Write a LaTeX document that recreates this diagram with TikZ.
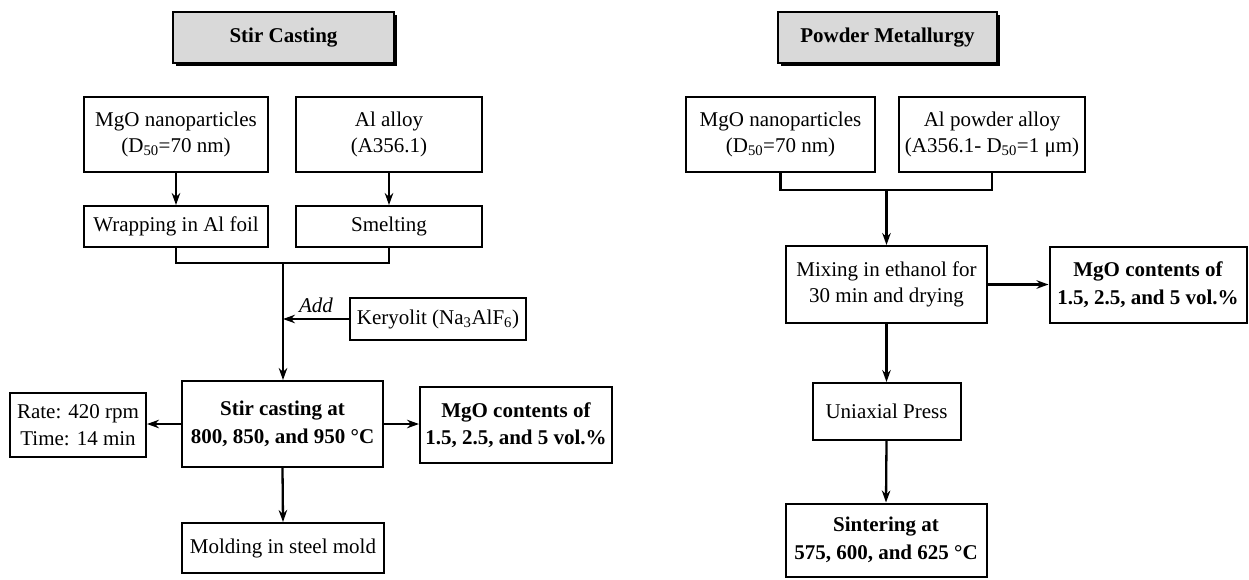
\documentclass[tikz,border=0pt]{standalone}
\usepackage{fontspec}
\setmainfont{Liberation Serif}
\usetikzlibrary{arrows.meta,shadows}
\definecolor{headgray}{HTML}{D9D9D9}
\begin{document}
\begin{tikzpicture}[x=1pt,y=-1pt,
  box/.style={draw, line width=2pt, fill=white, align=center, inner sep=0pt,
    font=\fontsize{21}{26.5}\selectfont},
  bbox/.style={box, font=\fontsize{21}{27.5}\selectfont\bfseries},
  head/.style={box, fill=headgray, font=\fontsize{21}{26}\selectfont\bfseries,
    drop shadow={shadow xshift=3pt, shadow yshift=-3pt, opacity=1, fill=black}},
  conn/.style={line width=2.6pt},
  arr/.style={line width=2.3pt, -{Stealth[length=12pt,width=8.5pt]}},
]
\useasboundingbox (0,0) rectangle (1249,579);

% ---------- Stir casting ----------
\node[head, minimum width=221pt, minimum height=51pt] (hsc) at (283.5,37.5) {Stir Casting};
\node[box, minimum width=184pt, minimum height=75pt] (mgoL) at (176,134.5) {MgO nanoparticles\\(D\textsubscript{50}=70 nm)};
\node[box, minimum width=186pt, minimum height=75pt] (alL) at (389,134.5) {Al alloy\\(A356.1)};
\node[box, minimum width=184pt, minimum height=41pt] (wrap) at (176,226.5) {Wrapping in Al foil};
\node[box, minimum width=186pt, minimum height=41pt] (smelt) at (389,226.5) {Smelting};
\node[box, minimum width=176pt, minimum height=42pt] (ker) at (438,319) {Keryolit (Na\textsubscript{3}AlF\textsubscript{6})};
\node[bbox, minimum width=201pt, minimum height=86pt] (stir) at (282.5,424) {Stir casting at\\800, 850, and 950 °C};
\node[box, minimum width=136pt, minimum height=64pt] (rate) at (78,425) {Rate: 420 rpm\\Time: 14 min};
\node[bbox, minimum width=192pt, minimum height=76pt] (mgoCL) at (516,425) {MgO contents of\\1.5, 2.5, and 5 vol.\%};
\node[box, minimum width=202pt, minimum height=50pt] (mold) at (283,548) {Molding in steel mold};

\coordinate (jL) at (283,263);
\draw[arr] (mgoL.south) -- (wrap.north);
\draw[arr] (alL.south) -- (smelt.north);
\draw[conn] (wrap.south) |- (jL) -| (smelt.south);
\draw[arr] (jL) -- (jL |- stir.north);
\draw[arr] (ker.west) -- node[midway, above=2pt, font=\fontsize{21}{26}\selectfont\itshape] {Add} (ker.west -| jL);
\draw[arr] (stir.west) -- (stir.west -| rate.east);
\draw[arr] (stir.east) -- (stir.east -| mgoCL.west);
\draw[arr] (stir.south) -- (mold.north);

% ---------- Powder metallurgy ----------
\node[head, minimum width=219pt, minimum height=51pt] (hpm) at (887.5,37.5) {Powder Metallurgy};
\node[box, minimum width=189pt, minimum height=75pt] (mgoR) at (780.5,134.5) {MgO nanoparticles\\(D\textsubscript{50}=70 nm)};
\node[box, minimum width=186pt, minimum height=75pt] (alR) at (992,134.5) {Al powder alloy\\(A356.1- D\textsubscript{50}=1 μm)};
\node[box, minimum width=201pt, minimum height=77pt] (mix) at (886.5,284.5) {Mixing in ethanol for\\30 min and drying};
\node[bbox, minimum width=197pt, minimum height=76pt] (mgoCR) at (1148,284.5) {MgO contents of\\1.5, 2.5, and 5 vol.\%};
\node[box, minimum width=148pt, minimum height=57pt] (uni) at (886.5,411.5) {Uniaxial Press};
\node[bbox, minimum width=201pt, minimum height=73pt] (sint) at (886,540) {Sintering at\\575, 600, and 625 °C};

\coordinate (jR) at (886.5,190);
\draw[conn] (mgoR.south) |- (jR) -| (alR.south);
\draw[arr] (jR) -- (jR |- mix.north);
\draw[arr] (mix.east) -- (mix.east -| mgoCR.west);
\draw[arr] (mix.south) -- (uni.north);
\draw[arr] (uni.south) -- (sint.north);
\end{tikzpicture}
\end{document}
